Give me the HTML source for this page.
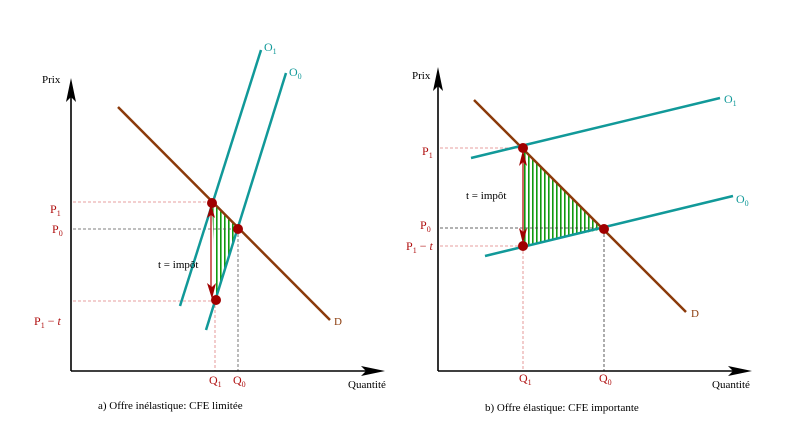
<!DOCTYPE html>
<html><head><style>
html,body{margin:0;padding:0;background:#fff;}
svg{display:block;font-family:"Liberation Serif",serif;}
</style></head><body>
<svg width="793" height="439" viewBox="0 0 793 439" xmlns="http://www.w3.org/2000/svg">
<defs>
<pattern id="h" width="4" height="4" patternUnits="userSpaceOnUse">
<rect width="4" height="4" fill="#fff"/>
<rect x="0" width="1.6" height="4" fill="#109a10"/>
</pattern>
</defs>
<g>
<polygon points="212,203 238,229 216,300" fill="url(#h)"/>
<line x1="73" y1="202" x2="212" y2="202" stroke="#e08080" stroke-width="0.8" stroke-dasharray="3,2"/>
<line x1="73" y1="229" x2="238" y2="229" stroke="#555" stroke-width="0.8" stroke-dasharray="3,2"/>
<line x1="73" y1="301" x2="216" y2="301" stroke="#e08080" stroke-width="0.8" stroke-dasharray="3,2"/>
<line x1="215" y1="300" x2="215" y2="371" stroke="#e08080" stroke-width="0.8" stroke-dasharray="3,2"/>
<line x1="238" y1="229" x2="238" y2="371" stroke="#555" stroke-width="0.8" stroke-dasharray="3,2"/>
<line x1="71" y1="371" x2="71" y2="95" stroke="#000" stroke-width="1.6"/>
<polygon points="71,78 66,102 71,97 76,102" fill="#000"/>
<line x1="71" y1="371" x2="368" y2="371" stroke="#000" stroke-width="1.6"/>
<polygon points="385,371 361,366 366,371 361,376" fill="#000"/>
<line x1="118" y1="107" x2="330" y2="320" stroke="#8b3a0a" stroke-width="2.5"/>
<line x1="180" y1="306" x2="261" y2="50" stroke="#119999" stroke-width="2.5"/>
<line x1="206" y1="330" x2="286" y2="73" stroke="#119999" stroke-width="2.5"/>
<line x1="211" y1="212" x2="211" y2="292" stroke="#c03030" stroke-width="1.5"/>
<polygon points="211,204 207,218 211,215 215,218" fill="#a00000"/>
<polygon points="212,299 207,283 212,287 216,283" fill="#a00000"/>
<circle cx="212" cy="203" r="5" fill="#a00000"/>
<circle cx="238" cy="229" r="5" fill="#a00000"/>
<circle cx="216" cy="300" r="5" fill="#a00000"/>
<text x="42" y="83" font-size="11">Prix</text>
<text x="348" y="388" font-size="11">Quantité</text>
<text x="50" y="213" font-size="12" fill="#b01010">P<tspan font-size="8" dy="3">1</tspan></text>
<text x="52" y="233" font-size="12" fill="#b01010">P<tspan font-size="8" dy="3">0</tspan></text>
<text x="34" y="325" font-size="12" fill="#b01010">P<tspan font-size="8" dy="3">1</tspan><tspan dy="-3"> − <tspan font-style="italic">t</tspan></tspan></text>
<text x="209" y="384" font-size="12" fill="#b01010">Q<tspan font-size="8" dy="3">1</tspan></text>
<text x="233" y="384" font-size="12" fill="#b01010">Q<tspan font-size="8" dy="3">0</tspan></text>
<text x="158" y="268" font-size="11">t = impôt</text>
<text x="264" y="51" font-size="12" fill="#119999">O<tspan font-size="8" dy="3">1</tspan></text>
<text x="289" y="76" font-size="12" fill="#119999">O<tspan font-size="8" dy="3">0</tspan></text>
<text x="334" y="325" font-size="11" fill="#8b3a0a">D</text>
<text x="98" y="409" font-size="11">a) Offre inélastique: CFE limitée</text>
</g>
<g>
<polygon points="523,148 604,229 523,246" fill="url(#h)"/>
<line x1="440" y1="148" x2="523" y2="148" stroke="#e08080" stroke-width="0.8" stroke-dasharray="3,2"/>
<line x1="440" y1="228" x2="604" y2="228" stroke="#333" stroke-width="0.8" stroke-dasharray="3,2"/>
<line x1="440" y1="246" x2="523" y2="246" stroke="#e08080" stroke-width="0.8" stroke-dasharray="3,2"/>
<line x1="523" y1="246" x2="523" y2="371" stroke="#e08080" stroke-width="0.8" stroke-dasharray="3,2"/>
<line x1="604" y1="229" x2="604" y2="371" stroke="#333" stroke-width="0.8" stroke-dasharray="3,2"/>
<line x1="438" y1="371" x2="438" y2="85" stroke="#000" stroke-width="1.6"/>
<polygon points="438,67 433,91 438,86 443,91" fill="#000"/>
<line x1="438" y1="371" x2="735" y2="371" stroke="#000" stroke-width="1.6"/>
<polygon points="752,371 728,366 733,371 728,376" fill="#000"/>
<line x1="474" y1="100" x2="686" y2="312" stroke="#8b3a0a" stroke-width="2.5"/>
<line x1="471" y1="158" x2="720" y2="98" stroke="#119999" stroke-width="2.5"/>
<line x1="485" y1="256" x2="733" y2="196" stroke="#119999" stroke-width="2.5"/>
<line x1="523" y1="158" x2="523" y2="236" stroke="#c03030" stroke-width="1.5"/>
<polygon points="523,150 519,166 523,162 527,166" fill="#a00000"/>
<polygon points="523,244 519,228 523,232 527,228" fill="#a00000"/>
<circle cx="523" cy="148" r="5" fill="#a00000"/>
<circle cx="604" cy="229" r="5" fill="#a00000"/>
<circle cx="523" cy="246" r="5" fill="#a00000"/>
<text x="412" y="79" font-size="11">Prix</text>
<text x="712" y="388" font-size="11">Quantité</text>
<text x="422" y="155" font-size="12" fill="#b01010">P<tspan font-size="8" dy="3">1</tspan></text>
<text x="420" y="229" font-size="12" fill="#b01010">P<tspan font-size="8" dy="3">0</tspan></text>
<text x="406" y="250" font-size="12" fill="#b01010">P<tspan font-size="8" dy="3">1</tspan><tspan dy="-3"> − <tspan font-style="italic">t</tspan></tspan></text>
<text x="519" y="382" font-size="12" fill="#b01010">Q<tspan font-size="8" dy="3">1</tspan></text>
<text x="599" y="382" font-size="12" fill="#b01010">Q<tspan font-size="8" dy="3">0</tspan></text>
<text x="466" y="199" font-size="11">t = impôt</text>
<text x="724" y="103" font-size="12" fill="#119999">O<tspan font-size="8" dy="3">1</tspan></text>
<text x="736" y="203" font-size="12" fill="#119999">O<tspan font-size="8" dy="3">0</tspan></text>
<text x="691" y="317" font-size="11" fill="#8b3a0a">D</text>
<text x="485" y="411" font-size="11">b) Offre élastique: CFE importante</text>
</g>
</svg>
</body></html>
